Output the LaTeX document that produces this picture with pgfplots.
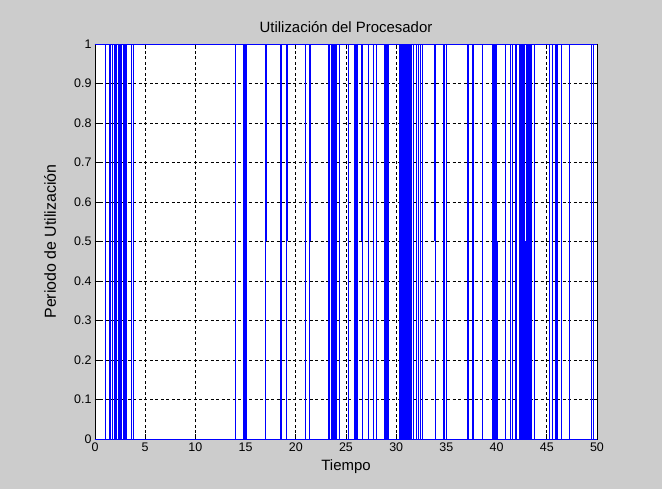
\documentclass[border=0pt]{standalone}
\usepackage{pgfplots}
\pgfplotsset{compat=1.18}
\usepackage{fontspec}
\setmainfont{Liberation Sans}
\definecolor{bg}{RGB}{204,204,204}
\definecolor{mblue}{RGB}{0,0,255}
\begin{document}
\begin{tikzpicture}
\fill[bg] (-95bp,-50bp) rectangle (567bp,439bp);
\begin{axis}[
  at={(0,0)}, anchor=south west,
  scale only axis, width=502bp, height=395bp,
  xmin=0, xmax=50, ymin=0, ymax=1,
  axis background/.style={fill=white},
  xtick={0,5,10,15,20,25,30,35,40,45,50},
  xticklabels={0,5,10,15,20,25,30,35,40,45,50},
  ytick={0,0.1,0.2,0.3,0.4,0.5,0.6,0.7,0.8,0.9,1},
  yticklabels={0,0.1,0.2,0.3,0.4,0.5,0.6,0.7,0.8,0.9,1},
  tick align=inside, major tick length=5bp,
  tick style={black, line width=0.6bp},
  axis line style={black, line width=0.6bp},
  grid=major,
  major grid style={black, line width=0.6bp, dash pattern=on 3bp off 2.5bp},
  tick label style={font=\fontsize{12.5}{14}\selectfont},
  title={Utilización del Procesador},
  title style={font=\fontsize{15}{17}\selectfont, at={(axis description cs:0.5,1.0278)}, anchor=center},
  xlabel={Tiempo},
  xlabel style={font=\fontsize{15}{17}\selectfont, at={(axis description cs:0.5,-0.0709)}, anchor=center},
  ylabel={Periodo de Utilización},
  ylabel style={font=\fontsize{16}{18}\selectfont, at={(axis description cs:-0.0896,0.5)}, anchor=center},
  clip=false,
]
% full-height transitions
\addplot[mblue, line width=0.8bp, ycomb, mark=none] coordinates {
(1.00,1)(1.08,1)(1.45,1)(1.52,1)(1.76,1)(1.98,1)(2.03,1)(2.08,1)(2.13,1)
(2.30,1)(2.35,1)(2.40,1)(2.45,1)(2.50,1)(2.55,1)(2.60,1)(2.65,1)
(2.82,1)(2.87,1)(2.92,1)(2.97,1)(3.02,1)(3.07,1)(3.12,1)(3.15,1)(3.62,1)(3.80,1)
(13.98,1)(14.82,1)(14.87,1)(14.92,1)(14.97,1)(15.02,1)(15.06,1)
(17.00,1)(18.45,1)(18.60,1)(19.05,1)(21.00,1)(21.33,1)
(23.20,1)(23.25,1)(23.30,1)(23.35,1)(23.50,1)(23.55,1)(23.60,1)
(23.72,1)(23.77,1)(23.82,1)(23.87,1)(23.92,1)(23.97,1)(24.02,1)(24.07,1)(24.30,1)
(25.20,1)(25.80,1)(25.85,1)(25.90,1)(25.95,1)(26.00,1)(26.05,1)(26.10,1)(26.66,1)(27.20,1)(27.70,1)(28.05,1)
(28.80,1)(28.85,1)(28.90,1)(28.95,1)(29.00,1)(29.05,1)(29.10,1)(29.15,1)(29.20,1)
(30.35,1)(30.40,1)(30.45,1)(30.50,1)(30.55,1)(30.60,1)(30.65,1)(30.70,1)(30.75,1)(30.80,1)(30.85,1)(30.90,1)
(30.95,1)(31.00,1)(31.05,1)(31.10,1)(31.15,1)(31.20,1)(31.25,1)(31.30,1)(31.35,1)(31.40,1)(31.45,1)(31.50,1)
(31.70,1)(32.05,1)(32.20,1)(32.45,1)(32.65,1)
(33.90,1)(34.70,1)(34.78,1)(35.00,1)(37.10,1)(37.18,1)(37.60,1)(37.68,1)(38.60,1)
(39.62,1)(39.67,1)(39.72,1)(39.77,1)(39.82,1)(39.87,1)(39.92,1)(39.97,1)
(40.85,1)(41.35,1)(41.60,1)(41.85,1)(42.00,1)
(42.30,1)(42.35,1)(42.40,1)(42.45,1)(42.50,1)(42.55,1)(42.60,1)(42.65,1)(42.70,1)(42.75,1)(42.80,1)
(43.02,1)(43.07,1)(43.12,1)(43.17,1)(43.22,1)(43.27,1)(43.32,1)(43.37,1)(43.42,1)(43.47,1)(43.50,1)
(43.80,1)(45.30,1)(45.60,1)(45.90,1)(45.95,1)(46.00,1)(46.05,1)(46.10,1)(46.50,1)(47.30,1)(49.45,1)(49.60,1)
};
% lower half transitions (0 to 0.5)
\addplot[mblue, line width=0.8bp, ycomb, mark=none] coordinates {
(40.06,0.5)(42.85,0.5)(42.90,0.5)(42.95,0.5)
};
% upper half transitions (0.5 to 1)
\addplot[mblue, line width=0.8bp, mark=none, unbounded coords=jump] coordinates {
(17.08,0.5)(17.08,1)(17.08,nan)
(19.15,0.5)(19.15,1)(19.15,nan)
(21.42,0.5)(21.42,1)(21.42,nan)
(26.58,0.5)(26.58,1)(26.58,nan)
(33.82,0.5)(33.82,1)(33.82,nan)
(42.93,0.5)(42.93,1)
};
% levels 0 and 1
\addplot[mblue, line width=0.8bp, mark=none] coordinates {(0,1)(50,1)};
\addplot[mblue, line width=0.8bp, mark=none] coordinates {(0,0)(50,0)};
\end{axis}
\end{tikzpicture}
\end{document}
